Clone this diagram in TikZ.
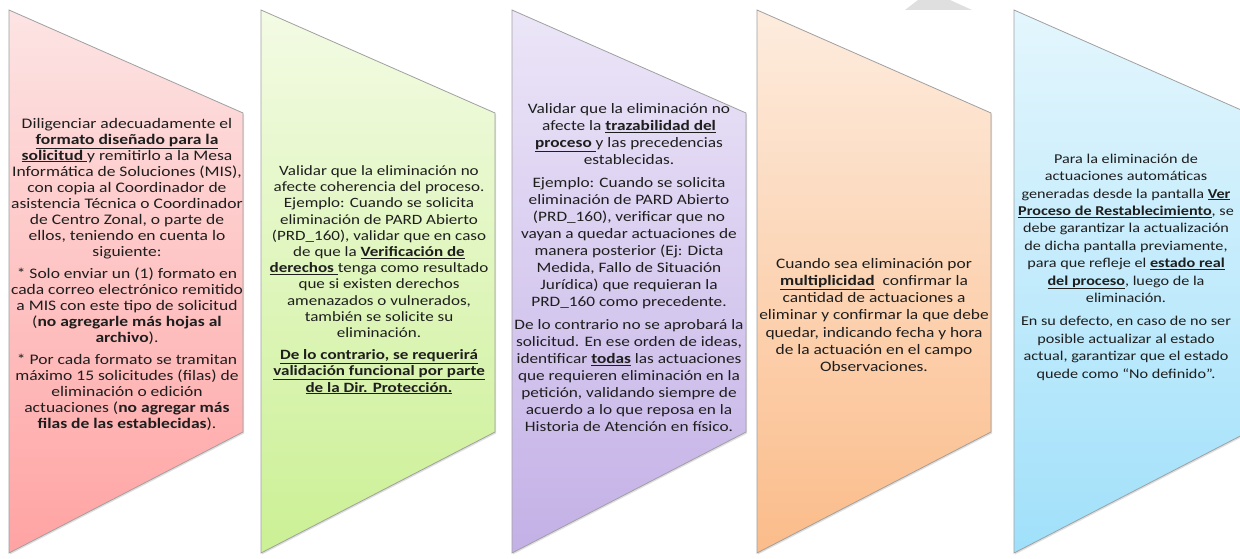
\documentclass[tikz,border=0pt]{standalone}
\usepackage{fontspec}
\setmainfont{Carlito}[FakeStretch=1.2]
\usetikzlibrary{shadows}
\definecolor{txt}{RGB}{30,30,30}
\definecolor{edge}{RGB}{160,160,160}
\definecolor{pinkT}{RGB}{253,228,228}
\definecolor{pinkB}{RGB}{255,163,163}
\definecolor{greenT}{RGB}{243,251,228}
\definecolor{greenB}{RGB}{203,240,148}
\definecolor{purpT}{RGB}{236,230,248}
\definecolor{purpB}{RGB}{195,176,230}
\definecolor{orT}{RGB}{253,236,222}
\definecolor{orB}{RGB}{251,188,138}
\definecolor{blT}{RGB}{228,246,253}
\definecolor{blB}{RGB}{160,224,250}
\newcommand\ulb[1]{\underline{\textbf{#1}}}
\begin{document}
\begin{tikzpicture}[x=1pt,y=-1pt,
  chev/.style={draw=edge, line width=0.8pt, drop shadow={opacity=0.25, shadow xshift=1pt, shadow yshift=-1.5pt}},
  body/.style={align=center, text=txt, inner sep=0pt},
  bodyA/.style={body, font=\fontsize{14.6}{16.0}\selectfont},
  bodyB/.style={body, font=\fontsize{14.2}{16.2}\selectfont},
  bodyC/.style={body, font=\fontsize{14.4}{17.0}\selectfont},
  bodyD/.style={body, font=\fontsize{14.5}{17.2}\selectfont},
  bodyE/.style={body, font=\fontsize{13.5}{17.4}\selectfont}]
\useasboundingbox (0,0) rectangle (1240,559);
\fill[white] (0,0) rectangle (1240,559);
% watermark fragment
\fill[gray!25] (905,10) -- (918,0) -- (950,0) -- (972,10) -- cycle;
% chevrons
\foreach \x/\ct/\cb in {9/pinkT/pinkB, 261/greenT/greenB, 512/purpT/purpB, 757/orT/orB, 1014/blT/blB}{
  \path[chev, top color=\ct, bottom color=\cb]
    (\x,10) -- (\x+234,113) -- (\x+234,432) -- (\x,553) -- cycle;
}
\node[bodyA] (t1) at (127,274) {Diligenciar adecuadamente el\\
\ulb{formato diseñado para la}\\
\ulb{solicitud }y remitirlo a la Mesa\\
Informática de Soluciones (MIS),\\
con copia al Coordinador de\\
asistencia Técnica o Coordinador\\
de Centro Zonal, o parte de\\
ellos, teniendo en cuenta lo\\
siguiente:\\[6pt]
* Solo enviar un (1) formato en\\
cada correo electrónico remitido\\
a MIS con este tipo de solicitud\\
(\textbf{no agregarle más hojas al}\\
\textbf{archivo}).\\[6pt]
* Por cada formato se tramitan\\
máximo 15 solicitudes (filas) de\\
eliminación o edición\\
actuaciones (\textbf{no agregar más}\\
\textbf{filas de las establecidas}).};
\node[bodyB] (t2) at (379,280) {Validar que la eliminación no\\
afecte coherencia del proceso.\\
Ejemplo: Cuando se solicita\\
eliminación de PARD Abierto\\
(PRD\_160), validar que en caso\\
de que la \ulb{Verificación de}\\
\ulb{derechos }tenga como resultado\\
que si existen derechos\\
amenazados o vulnerados,\\
también se solicite su\\
eliminación.\\[6pt]
\ulb{De lo contrario, se requerirá}\\
\ulb{validación funcional por parte}\\
\ulb{de la Dir. Protección.}};
\node[bodyC] (t3) at (629,268) {Validar que la eliminación no\\
afecte la \ulb{trazabilidad del}\\
\ulb{proceso }y las precedencias\\
establecidas.\\[6pt]
Ejemplo: Cuando se solicita\\
eliminación de PARD Abierto\\
(PRD\_160), verificar que no\\
vayan a quedar actuaciones de\\
manera posterior (Ej: Dicta\\
Medida, Fallo de Situación\\
Jurídica) que requieran la\\
PRD\_160 como precedente.\\[6pt]
De lo contrario no se aprobará la\\
solicitud. En ese orden de ideas,\\
identificar \ulb{todas} las actuaciones\\
que requieren eliminación en la\\
petición, validando siempre de\\
acuerdo a lo que reposa en la\\
Historia de Atención en físico.};
\node[bodyD] (t4) at (874,315) {Cuando sea eliminación por\\
\ulb{multiplicidad}\ \ confirmar la\\
cantidad de actuaciones a\\
eliminar y confirmar la que debe\\
quedar, indicando fecha y hora\\
de la actuación en el campo\\
Observaciones.};
\node[bodyE] (t5) at (1126,267) {Para la eliminación de\\
actuaciones automáticas\\
generadas desde la pantalla \ulb{Ver}\\
\ulb{Proceso de Restablecimiento}, se\\
debe garantizar la actualización\\
de dicha pantalla previamente,\\
para que refleje el \ulb{estado real}\\
\ulb{del proceso}, luego de la\\
eliminación.\\[6pt]
En su defecto, en caso de no ser\\
posible actualizar al estado\\
actual, garantizar que el estado\\
quede como “No definido”.};
\end{tikzpicture}
\end{document}
